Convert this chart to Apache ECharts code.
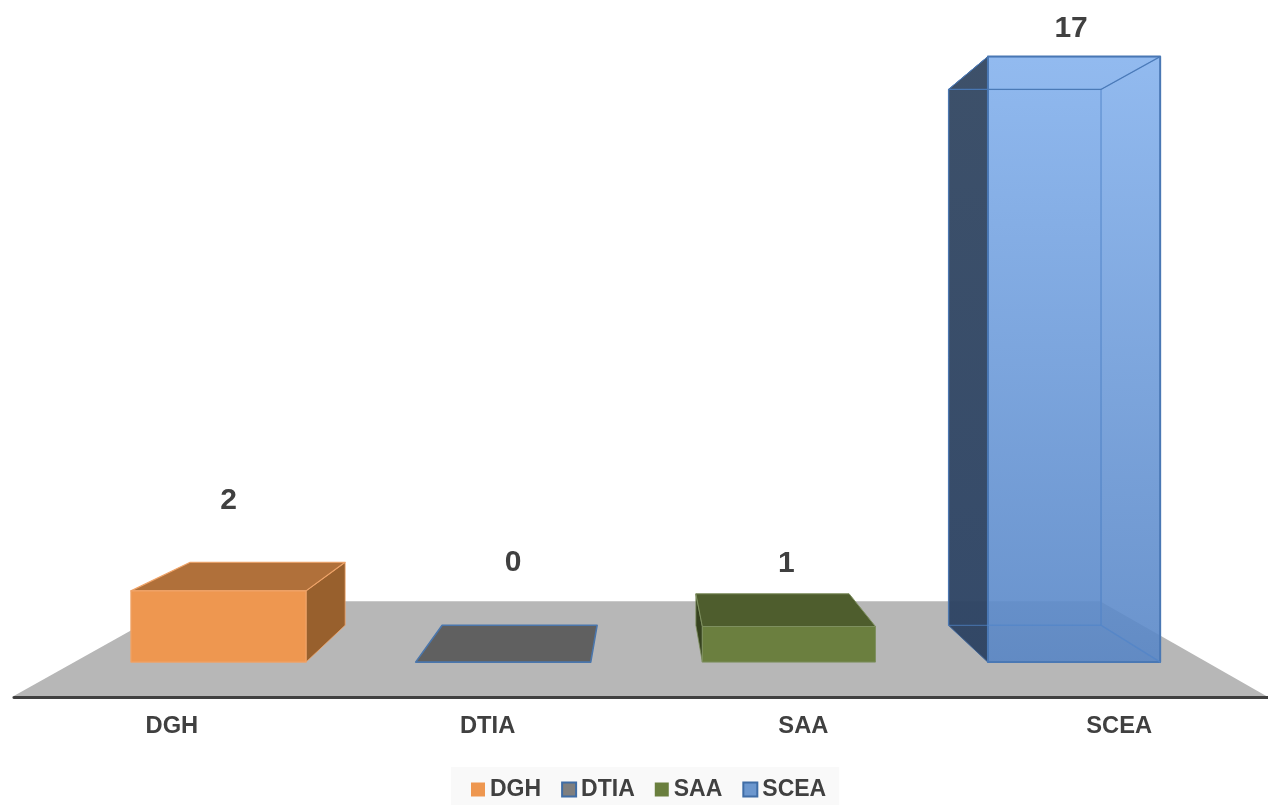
<!DOCTYPE html>
<html>
<head>
<meta charset="utf-8">
<style>html,body{margin:0;padding:0;background:#fff;overflow:hidden}#c{width:1268px;height:805px}</style>
<script src="https://cdn.jsdelivr.net/npm/echarts@6/dist/echarts.min.js"></script>
</head>
<body>
<div id="c"></div>
<script>
const categories = ['DGH', 'DTIA', 'SAA', 'SCEA'];
const values = [2, 0, 1, 17];

// Perspective settings of the 3D look (view point and depth of the planes)
const VP = [646, 342];
const S_FRONT = 0.9017, S_BACK = 0.798, S_FLOOR_BACK = 0.73;
const BAR_FRACTION = 0.615;
const LEFT_TRIM = [0, 0, 2.2, 3.2];
const FLOOR_SPAN = [-0.5064, 3.4715];
const LABEL_NUDGE = [[10, -90], [10, -99], [-1.5, -63], [-1.5, -28]];
const FONT = '"Liberation Sans", Arial, sans-serif';
const INK = '#404040';

const grad = (a, b) => ({type: 'linear', x: 0, y: 0, x2: 0, y2: 1, colorStops: [{offset: 0, color: a}, {offset: 1, color: b}]});

const LOOKS = [
  {legend: {color: '#EE9750', borderColor: '#EE9750', borderWidth: 0},
   front: '#EE9750', top: '#B0703A', side: '#98602D', stroke: '#EFA368', lw: 1.2},
  {legend: {color: '#7F7F7F', borderColor: '#3F6DA6', borderWidth: 2},
   front: '#606060', top: '#606060', side: '#606060', stroke: '#4A76AC', lw: 1.6},
  {legend: {color: '#6A7F3E', borderColor: '#6A7F3E', borderWidth: 0},
   front: '#6B7F3F', top: '#4E5D2D', side: '#36421F', stroke: '#7F9060', lw: 1},
  {legend: {color: '#6C97CE', borderColor: '#3F6DA6', borderWidth: 2},
   front: grad('rgba(136,180,238,0.9)', 'rgba(88,134,198,0.88)'),
   top: 'rgba(120,165,225,0.12)',
   back: 'rgba(120,165,225,0.25)',
   floor: 'rgba(30,60,110,0.10)',
   right: 'rgba(90,140,210,0.10)',
   side: grad('rgba(52,72,98,0.95)', 'rgba(44,66,98,0.95)'),
   stroke: '#4A78B4', inner: 'rgba(84,134,200,0.6)', lw: 2, see: true}
];

function project(p, s) {
  return [VP[0] + (p[0] - VP[0]) * s, VP[1] + (p[1] - VP[1]) * s];
}
const poly = (points, fill, stroke, lw) => ({
  type: 'polygon', shape: {points}, silent: true,
  style: {fill, stroke: stroke || null, lineWidth: lw || 0, lineJoin: 'round'}
});

function renderBox(params, api) {
  const i = api.value(0), v = api.value(1);
  const look = LOOKS[i];
  const base = api.coord([i, 0]), top = api.coord([i, v]);
  const half = api.size([1, 0])[0] * BAR_FRACTION / 2;
  const L = base[0] - half + LEFT_TRIM[i], R = base[0] + half, B = base[1], T = top[1];
  const f = {lb: project([L, B], S_FRONT), rb: project([R, B], S_FRONT), lt: project([L, T], S_FRONT), rt: project([R, T], S_FRONT)};
  const b = {lb: project([L, B], S_BACK), rb: project([R, B], S_BACK), lt: project([L, T], S_BACK), rt: project([R, T], S_BACK)};
  const kids = [];
  const leftFace = [b.lt, f.lt, f.lb, b.lb], rightFace = [b.rt, f.rt, f.rb, b.rb];
  const topFace = [b.lt, b.rt, f.rt, f.lt], frontFace = [f.lt, f.rt, f.rb, f.lb];
  if (look.see) {
    kids.push(poly([b.lt, b.rt, b.rb, b.lb], look.back, look.inner, 1.5));
    kids.push(poly([b.lb, b.rb, f.rb, f.lb], look.floor, look.inner, 1.2));
    kids.push(poly(rightFace, look.right, look.inner, 1.2));
    kids.push(poly(topFace, look.top, look.inner, 1.2));
    kids.push(poly(leftFace, look.side, '#3F5E88', 1));
    kids.push(poly(frontFace, look.front, look.stroke, look.lw));
    kids.push(poly([b.lt, b.rt, b.rb, b.lb], 'transparent', look.inner, 1.3));
    kids.push(poly([b.rt, f.rt], 'transparent', look.inner, 1.3));
    kids.push(poly([b.rb, f.rb], 'transparent', look.inner, 1.3));
    kids.push(poly(topFace, 'transparent', look.stroke, 1));
  } else if (v > 0) {
    kids.push(poly(base[0] < VP[0] ? rightFace : leftFace, look.side, look.stroke, 0.8));
    kids.push(poly(topFace, look.top, look.stroke, look.lw));
    kids.push(poly(frontFace, look.front, look.stroke, look.lw));
  } else {
    kids.push(poly(topFace, look.top, look.stroke, look.lw));
  }
  const anchor = [project([base[0], T], S_FRONT)[0] + LABEL_NUDGE[i][0], f.lt[1] + LABEL_NUDGE[i][1]];
  kids.push({
    type: 'text', silent: true,
    style: {x: anchor[0], y: anchor[1], text: String(v), fill: INK, align: 'center', verticalAlign: 'middle',
            font: 'bold 30px ' + FONT}
  });
  return {type: 'group', children: kids};
}

function renderFloor(params, api) {
  const o = api.coord([0, 0]), step = api.size([1, 0])[0];
  const l = [o[0] + FLOOR_SPAN[0] * step, o[1]], r = [o[0] + FLOOR_SPAN[1] * step, o[1]];
  return poly([project(l, S_FLOOR_BACK), project(r, S_FLOOR_BACK), r, l], '#B7B7B7');
}

const series = [{
  name: 'floor', type: 'custom', z: 1, silent: true, coordinateSystem: 'cartesian2d',
  renderItem: renderFloor, data: [[0, 0]], encode: {x: 0, y: 1}, clip: false
}].concat(categories.map((c, i) => ({
  name: c, type: 'custom', z: 2, silent: true, coordinateSystem: 'cartesian2d',
  renderItem: renderBox, data: [[i, values[i]]], encode: {x: 0, y: 1}, clip: false,
  itemStyle: LOOKS[i].legend
})));

const chart = echarts.init(document.getElementById('c'), null, {renderer: 'canvas', width: 1268, height: 805});
chart.setOption({
  animation: false,
  backgroundColor: '#ffffff',
  grid: {left: 14, width: 1263, top: 25.5, height: 671.5, outerBoundsMode: 'none'},
  xAxis: {
    type: 'category', data: categories, z: 3,
    axisLine: {show: true, lineStyle: {color: INK, width: 3}},
    axisTick: {show: false},
    axisLabel: {color: INK, fontFamily: FONT, fontWeight: 'bold', fontSize: 23.7, margin: 17}
  },
  yAxis: {type: 'value', min: 0, max: 17, show: false, splitLine: {show: false}},
  legend: {
    data: categories.map((c, i) => ({name: c, itemStyle: LOOKS[i].legend, icon: 'rect'})),
    left: 451, top: 767, padding: [11, 13, 11, 20],
    backgroundColor: '#F9F9F9',
    itemWidth: 14, itemHeight: 14, itemGap: 20,
    selectedMode: false,
    textStyle: {color: INK, fontFamily: FONT, fontWeight: 'bold', fontSize: 23}
  },
  tooltip: {show: false},
  series
});
</script>
</body>
</html>
